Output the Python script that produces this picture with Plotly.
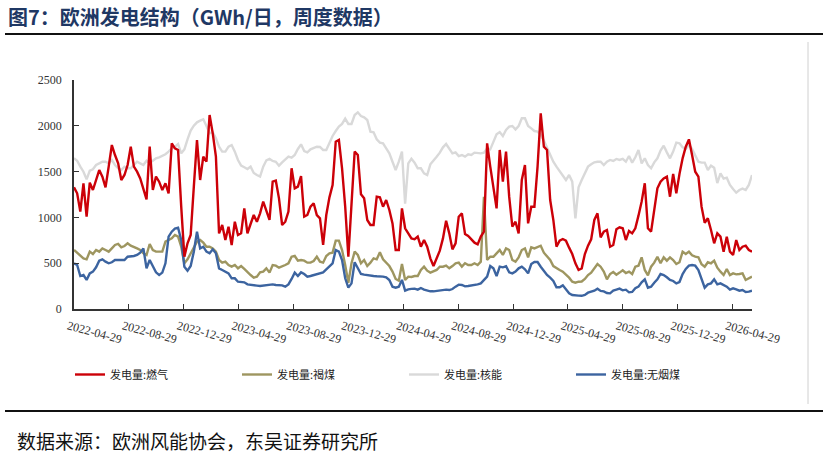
import pandas as pd
import plotly.graph_objects as go

# ---------------- data (GWh/day, weekly) ----------------
start_date = "2022-04-29"
n_weeks = 216
dates = pd.date_range(start_date, periods=n_weeks, freq="7D")

gas = [1328,1263,1063,1372,1008,1379,1299,1408,1517,1445,1328,1554,1790,1681,1590,1408,1463,1572,1772,1554,
       1499,1426,1299,1197,1772,1299,1445,1390,1299,1372,1263,1809,1754,1736,1117,571,717,808,1336,1845,
       1408,1663,1608,2118,1918,1663,826,917,753,899,699,953,808,
       826,1099,826,928,1026,953,1044,1172,1063,972,1390,1401,1208,917,953,1063,1536,1317,1336,1452,
       1008,1026,1117,1154,1026,990,699,1026,1219,1354,1827,1845,1536,1117,571,1190,1718,1681,1252,1208,
       972,917,917,1226,1219,1117,1190,1081,935,644,644,1099,881,826,770,
       761,790,680,753,680,553,469,564,637,771,964,826,651,717,1008,1044,819,797,761,724,
       706,790,844,1809,1554,1336,1099,1736,1390,1718,1226,899,953,826,1408,1572,935,1117,1117,1554,
       2136,1772,1736,1190,972,680,746,764,746,670,600,499,426,444,
       600,691,761,972,1044,782,844,862,680,699,870,892,881,753,852,826,881,1019,1172,1372,
       881,844,1081,1317,1390,1426,1445,1226,1474,1263,1474,1645,1772,1852,1681,1499,1445,1117,942,990,
       862,717,826,790,626,790,626,590,753,644,680,691,644,626]

lignite = [644,615,590,553,542,626,600,644,626,662,644,626,662,699,710,673,688,717,691,680,
           662,644,608,590,710,644,626,626,626,735,753,771,808,790,680,499,542,608,680,735,
           753,724,680,680,662,626,535,506,517,480,462,480,444,
           469,437,400,371,342,353,400,408,444,397,480,473,451,462,480,499,571,579,528,535,
           528,506,506,524,571,517,506,579,608,615,746,746,644,480,287,499,626,590,499,535,
           469,506,553,542,619,542,510,469,408,328,309,491,317,353,350,
           360,360,426,462,418,397,408,426,462,462,473,444,469,499,506,462,499,480,480,499,
           480,517,1226,535,571,571,608,644,590,662,644,535,517,564,644,662,564,673,662,680,
           691,615,579,535,469,444,426,408,378,342,298,287,298,300,
           328,371,397,451,491,462,408,324,382,404,375,397,422,393,408,382,462,473,564,426,
           368,462,506,571,499,564,528,564,535,491,510,626,600,626,586,571,564,488,462,510,
           499,528,451,408,371,437,371,389,378,382,389,317,335,353]

nuclear = [1645,1619,1554,1499,1416,1510,1525,1572,1590,1608,1608,1590,1627,1572,1536,1517,1554,1536,1536,1572,
           1608,1590,1572,1619,1590,1619,1645,1656,1670,1689,1718,1754,1772,1801,1699,1743,1852,1947,2001,2038,
           2056,2071,1998,1918,1929,1863,1772,1718,1718,1772,1790,1718,1627,
           1565,1547,1528,1554,1485,1463,1445,1554,1623,1638,1616,1608,1565,1601,1627,1663,1652,1681,1747,1798,
           1725,1710,1743,1761,1772,1769,1736,1736,1816,1889,1943,1991,2020,2078,2020,2020,2118,2147,2107,2092,
           2063,1936,1929,1852,1816,1809,1754,1699,1608,1517,1608,1718,1150,1590,1640,
           1598,1536,1536,1481,1463,1579,1627,1663,1707,1765,1801,1754,1699,1710,1670,1681,1663,1689,1681,1707,
           1699,1699,1707,1754,1743,1827,1907,1932,1889,1954,1991,1998,1961,1998,2082,2082,1998,1972,1943,1936,
           1900,1838,1761,1692,1608,1554,1507,1463,1408,1463,1390,990,1328,1408,
           1474,1554,1579,1601,1608,1608,1572,1608,1627,1616,1638,1627,1638,1608,1670,1598,1656,1736,1590,1645,
           1572,1536,1601,1645,1729,1783,1710,1645,1718,1816,1809,1765,1747,1790,1747,1670,1608,1598,1598,1517,
           1565,1543,1375,1481,1423,1434,1354,1310,1270,1299,1314,1299,1354,1463]

anthracite = [499,480,360,371,317,389,408,455,528,542,517,499,510,535,535,535,535,571,571,579,
              590,615,662,444,535,462,400,371,397,499,790,844,877,888,753,462,418,469,626,844,
              662,680,626,608,651,608,444,426,408,389,335,335,298,
              291,291,269,262,255,255,251,255,262,258,269,262,262,258,244,269,328,397,360,400,
              382,353,360,371,382,389,400,433,462,499,644,626,535,335,233,280,510,444,382,375,
              368,368,360,357,357,353,346,317,244,233,244,317,200,215,220,
              222,211,229,211,200,193,193,197,204,207,211,207,218,244,266,262,247,251,255,262,
              269,280,317,353,469,444,360,462,455,466,400,389,408,444,462,433,389,491,513,513,
              462,418,371,342,306,237,237,258,215,171,153,146,146,144,
              153,178,189,200,222,197,193,175,171,200,211,222,204,211,182,186,226,244,291,324,
              233,244,287,324,382,371,346,317,306,280,295,382,437,473,480,473,426,335,233,269,
              280,324,269,280,262,244,211,226,215,200,207,186,189,200]

series_names = ["发电量:燃气", "发电量:褐煤", "发电量:核能", "发电量:无烟煤"]
series_colors = ["#CC0008", "#9E9660", "#D9D9D9", "#3C64A0"]

tick_labels = ["2022-04-29", "2022-08-29", "2022-12-29", "2023-04-29", "2023-08-29",
               "2023-12-29", "2024-04-29", "2024-08-29", "2024-12-29", "2025-04-29",
               "2025-08-29", "2025-12-29", "2026-04-29"]
y_ticks = [0, 500, 1000, 1500, 2000, 2500]

title_text = "图7：欧洲发电结构（GWh/日，周度数据）"
source_text = "数据来源：欧洲风能协会，东吴证券研究所"

# ---------------- layout geometry ----------------
W, H = 828, 458
L, R, T, B = 74, 752, 80, 309   # plot area in pixels


def px_x(x):
    return (x - L) / (R - L)


def px_y(y):
    return (B - y) / (B - T)


fig = go.Figure()
values = [gas, lignite, nuclear, anthracite]
draw_order = [2, 1, 3, 0]  # nuclear, lignite, anthracite, gas on top
for k in draw_order:
    fig.add_trace(go.Scatter(
        x=dates, y=values[k], mode="lines", name=series_names[k],
        line=dict(color=series_colors[k], width=2.4),
        legendrank=k + 1, hoverinfo="skip",
    ))

serif = "Liberation Serif, Times New Roman, serif"
cjk = "Noto Sans CJK SC, sans-serif"

fig.update_layout(
    width=W, height=H,
    margin=dict(l=L, r=W - R, t=T, b=H - B, pad=0),
    paper_bgcolor="white", plot_bgcolor="white",
    showlegend=True,
    legend=dict(
        orientation="h", x=px_x(70), y=px_y(360), xanchor="left", yanchor="top",
        entrywidth=122, entrywidthmode="pixels", itemwidth=30,
        font=dict(family=cjk, size=11, color="#222222"),
        bgcolor="rgba(0,0,0,0)", traceorder="normal",
    ),
    xaxis=dict(
        type="date", range=[dates[0], dates[-1]],
        tickmode="array", tickvals=tick_labels, ticktext=tick_labels,
        tickangle=15, ticks="inside", ticklen=5, tickcolor="#333333", tickwidth=1.3,
        showline=True, linecolor="#333333", linewidth=1.5,
        showgrid=False, zeroline=False,
        tickfont=dict(family=serif, size=12, color="#333333"),
        ticklabelshift=-6, ticklabelstandoff=4,
    ),
    yaxis=dict(
        range=[0, 2500], tickmode="array", tickvals=y_ticks,
        ticks="inside", ticklen=5, tickcolor="#333333", tickwidth=1.3,
        showline=True, linecolor="#333333", linewidth=1.5,
        showgrid=False, zeroline=False,
        tickfont=dict(family=serif, size=12, color="#333333"),
        ticklabelstandoff=8,
    ),
)

# title, source
fig.add_annotation(text="<b>" + title_text + "</b>", xref="paper", yref="paper",
                   x=px_x(6), y=px_y(17), xanchor="left", yanchor="middle",
                   showarrow=False, font=dict(family=cjk, size=20, color="#1F3864"))
fig.add_annotation(text=source_text, xref="paper", yref="paper",
                   x=px_x(15), y=px_y(440), xanchor="left", yanchor="middle",
                   showarrow=False, font=dict(family=cjk, size=19, color="#111111"))

# separator rules and frame line
fig.add_shape(type="line", xref="paper", yref="paper",
              x0=px_x(5), x1=px_x(823), y0=px_y(34), y1=px_y(34),
              line=dict(color="#111111", width=2))
fig.add_shape(type="line", xref="paper", yref="paper",
              x0=px_x(5), x1=px_x(823), y0=px_y(411), y1=px_y(411),
              line=dict(color="#111111", width=2))
fig.add_shape(type="line", xref="paper", yref="paper",
              x0=px_x(808), x1=px_x(808), y0=px_y(42), y1=px_y(404),
              line=dict(color="#D0D0D0", width=1))

fig.write_html("out.html")
